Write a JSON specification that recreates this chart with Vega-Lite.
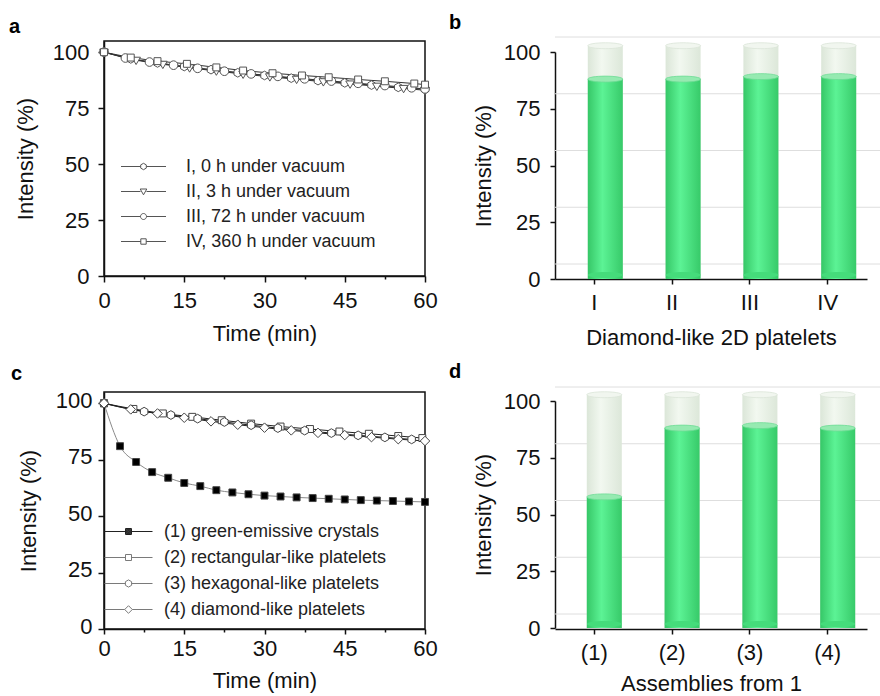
{
  "$schema": "https://vega.github.io/schema/vega-lite/v6.json",
  "padding": {"left": 8, "top": 12, "right": 0, "bottom": 0},
  "background": "white",
  "config": {
    "font": "Liberation Sans",
    "view": {"stroke": null},
    "axis": {
      "labelFont": "Liberation Sans", "titleFont": "Liberation Sans",
      "labelFontSize": 22, "titleFontSize": 22, "titleFontWeight": "normal",
      "labelColor": "#111", "titleColor": "#111",
      "domainColor": "#111", "tickColor": "#111", "domainWidth": 1.5, "tickWidth": 1.5,
      "grid": false, "labelOverlap": false
    },
    "legend": {"labelFont": "Liberation Sans", "labelFontSize": 18, "labelColor": "#222", "labelLimit": 0},
    "title": {"font": "Liberation Sans", "fontSize": 20, "fontWeight": "bold", "anchor": "start", "frame": "group", "color": "#000"}
  },
  "resolve": {"scale": {"shape": "independent", "color": "independent", "x": "independent", "y": "independent"}, "legend": {"shape": "independent", "color": "independent"}},
  "columns": 2,
  "bounds": "flush",
  "spacing": {"row": 113, "column": 130},
  "concat": [
    {
      "width": 321, "height": 235,
      "view": {"stroke": "#111", "strokeWidth": 1.5},
      "title": {"text": "a", "dx": -95, "offset": 4},
      "data": {"values": [
        {"s": "I, 0 h under vacuum", "t": 0, "v": 100}, {"s": "I, 0 h under vacuum", "t": 5, "v": 97}, {"s": "I, 0 h under vacuum", "t": 10, "v": 95.2}, {"s": "I, 0 h under vacuum", "t": 15, "v": 93.6}, {"s": "I, 0 h under vacuum", "t": 20, "v": 92.2}, {"s": "I, 0 h under vacuum", "t": 25, "v": 90.8}, {"s": "I, 0 h under vacuum", "t": 30, "v": 89.6}, {"s": "I, 0 h under vacuum", "t": 35, "v": 88.4}, {"s": "I, 0 h under vacuum", "t": 40, "v": 87.3}, {"s": "I, 0 h under vacuum", "t": 45, "v": 86.3}, {"s": "I, 0 h under vacuum", "t": 50, "v": 85.3}, {"s": "I, 0 h under vacuum", "t": 55, "v": 84.3}, {"s": "I, 0 h under vacuum", "t": 60, "v": 83.4},
        {"s": "II, 3 h under vacuum", "t": 0, "v": 100}, {"s": "II, 3 h under vacuum", "t": 6, "v": 96.4}, {"s": "II, 3 h under vacuum", "t": 11, "v": 94.6}, {"s": "II, 3 h under vacuum", "t": 16, "v": 93}, {"s": "II, 3 h under vacuum", "t": 21, "v": 91.6}, {"s": "II, 3 h under vacuum", "t": 26, "v": 90.2}, {"s": "II, 3 h under vacuum", "t": 31, "v": 89}, {"s": "II, 3 h under vacuum", "t": 36, "v": 87.9}, {"s": "II, 3 h under vacuum", "t": 41, "v": 86.8}, {"s": "II, 3 h under vacuum", "t": 46, "v": 85.8}, {"s": "II, 3 h under vacuum", "t": 51, "v": 84.8}, {"s": "II, 3 h under vacuum", "t": 56, "v": 83.8}, {"s": "II, 3 h under vacuum", "t": 60, "v": 83},
        {"s": "III, 72 h under vacuum", "t": 0, "v": 100}, {"s": "III, 72 h under vacuum", "t": 4, "v": 97.4}, {"s": "III, 72 h under vacuum", "t": 8.5, "v": 95.6}, {"s": "III, 72 h under vacuum", "t": 13, "v": 94.2}, {"s": "III, 72 h under vacuum", "t": 17.5, "v": 92.8}, {"s": "III, 72 h under vacuum", "t": 22.5, "v": 91.5}, {"s": "III, 72 h under vacuum", "t": 27.5, "v": 90.3}, {"s": "III, 72 h under vacuum", "t": 32.5, "v": 89.2}, {"s": "III, 72 h under vacuum", "t": 37.5, "v": 88.1}, {"s": "III, 72 h under vacuum", "t": 42.5, "v": 87.1}, {"s": "III, 72 h under vacuum", "t": 47.5, "v": 86.1}, {"s": "III, 72 h under vacuum", "t": 52.5, "v": 85.1}, {"s": "III, 72 h under vacuum", "t": 57.5, "v": 84.1}, {"s": "III, 72 h under vacuum", "t": 60, "v": 83.6},
        {"s": "IV, 360 h under vacuum", "t": 0, "v": 100}, {"s": "IV, 360 h under vacuum", "t": 5, "v": 97.6}, {"s": "IV, 360 h under vacuum", "t": 10, "v": 96}, {"s": "IV, 360 h under vacuum", "t": 15.5, "v": 94.8}, {"s": "IV, 360 h under vacuum", "t": 21, "v": 93.2}, {"s": "IV, 360 h under vacuum", "t": 26, "v": 91.8}, {"s": "IV, 360 h under vacuum", "t": 31.5, "v": 90.6}, {"s": "IV, 360 h under vacuum", "t": 37, "v": 89.6}, {"s": "IV, 360 h under vacuum", "t": 42, "v": 88.8}, {"s": "IV, 360 h under vacuum", "t": 47.5, "v": 87.8}, {"s": "IV, 360 h under vacuum", "t": 52.5, "v": 87}, {"s": "IV, 360 h under vacuum", "t": 58, "v": 86}, {"s": "IV, 360 h under vacuum", "t": 60, "v": 85.5}
      ]},
      "resolve": {"scale": {"shape": "independent"}, "legend": {"shape": "independent"}},
      "layer": [
        {
          "mark": {"type": "line", "color": "#333", "strokeWidth": 1},
          "encoding": {
            "x": {"field": "t", "type": "quantitative", "scale": {"domain": [0, 60], "nice": false},
              "axis": {"values": [0, 7.5, 15, 22.5, 30, 37.5, 45, 52.5, 60], "labelExpr": "datum.value % 15 === 0 ? datum.label : ''", "labelFlush": false,
                "tickSize": {"condition": {"test": "datum.value % 15 === 0", "value": 6}, "value": 3}, "labelPadding": 8, "titlePadding": 12, "title": "Time (min)"}},
            "y": {"field": "v", "type": "quantitative", "scale": {"domain": [0, 105], "nice": false},
              "axis": {"values": [0, 12.5, 25, 37.5, 50, 62.5, 75, 87.5, 100], "labelExpr": "datum.value % 25 === 0 ? datum.label : ''",
                "tickSize": {"condition": {"test": "datum.value % 25 === 0", "value": 6}, "value": 3}, "labelPadding": 9, "titlePadding": 15, "title": "Intensity (%)"}},
            "detail": {"field": "s"}
          }
        },
        {
          "mark": {"type": "point", "filled": true, "fill": "white", "stroke": "#555", "strokeWidth": 1, "size": 75, "opacity": 1},
          "encoding": {
            "x": {"field": "t", "type": "quantitative"},
            "y": {"field": "v", "type": "quantitative"},
            "shape": {"field": "s", "type": "nominal",
              "scale": {"domain": ["I, 0 h under vacuum", "II, 3 h under vacuum", "III, 72 h under vacuum", "IV, 360 h under vacuum"],
                "range": ["M0,-1L0.866,-0.5L0.866,0.5L0,1L-0.866,0.5L-0.866,-0.5Z", "M-1,-0.7L1,-0.7L0,1Z", "M1,0A1,1 0 1,1 -1,0A1,1 0 1,1 1,0Z", "M-0.8,-0.8L0.8,-0.8L0.8,0.8L-0.8,0.8Z"]},
              "legend": null
            }
          }
        },
        {
          "transform": [{"filter": "datum.t < 0"}],
          "mark": {"type": "point", "filled": false, "color": "#555", "strokeWidth": 1, "size": 400, "opacity": 1},
          "encoding": {
            "shape": {"field": "s", "type": "nominal",
              "scale": {"domain": ["I, 0 h under vacuum", "II, 3 h under vacuum", "III, 72 h under vacuum", "IV, 360 h under vacuum"],
                "range": ["M-2.25,0L-0.3,0M0.3,0L2.25,0M0,-0.32L0.28,-0.16L0.28,0.16L0,0.32L-0.28,0.16L-0.28,-0.16Z", "M-2.25,0L-0.3,0M0.3,0L2.25,0M-0.33,-0.25L0.33,-0.25L0,0.33Z", "M-2.25,0L-0.3,0M0.3,0L2.25,0M0.3,0A0.3,0.3 0 1,1 -0.3,0A0.3,0.3 0 1,1 0.3,0Z", "M-2.25,0L-0.27,0M0.27,0L2.25,0M-0.27,-0.27L0.27,-0.27L0.27,0.27L-0.27,0.27Z"]},
              "legend": {"title": null, "orient": "none", "legendX": 29, "legendY": 115, "padding": 0, "symbolSize": 400, "labelOffset": 32, "rowPadding": 5, "symbolStrokeWidth": 1, "symbolOpacity": 1}
            }
          }
        }
      ]
    },
    {
      "width": 312, "height": 238,
      "title": {"text": "b", "dx": -106, "offset": 4},
      "layer": [
        {
          "data": {"values": [{"g": 0}, {"g": 25}, {"g": 50}, {"g": 75}, {"g": 100}]},
          "mark": {"type": "rule", "color": "#dedede", "strokeWidth": 1, "xOffset": 22, "yOffset": -15},
          "encoding": {
            "y": {"field": "g", "type": "quantitative", "scale": {"domain": [0, 100], "range": [238, 11], "nice": false},
              "axis": {"values": [0, 25, 50, 75, 100], "tickSize": 5, "labelPadding": 10, "titlePadding": 8, "title": "Intensity (%)"}}
          }
        },
        {
          "data": {"values": [{"k": "I", "v": 86.3}, {"k": "II", "v": 86.3}, {"k": "III", "v": 87.4}, {"k": "IV", "v": 87.4}]},
          "layer": [
            {
              "mark": {"type": "bar", "xOffset": 11, "yOffset": -4, "fill": {"gradient": "linear", "x1": 0, "y1": 0, "x2": 1, "y2": 0, "stops": [{"offset": 0, "color": "#dbe6d8"}, {"offset": 0.4, "color": "#f2f8f0"}, {"offset": 1, "color": "#dce7d9"}]}},
              "encoding": {
                "x": {"field": "k", "type": "nominal", "sort": null, "scale": {"paddingInner": 0.55, "paddingOuter": 0.28},
                  "axis": {"labelAngle": 0, "tickSize": 5, "labelPadding": 8, "titlePadding": 14, "title": "Diamond-like 2D platelets"}},
                "y": {"datum": 101, "type": "quantitative"},
                "y2": {"datum": 0}
              }
            },
            {
              "mark": {"type": "bar", "xOffset": 11, "yOffset": -4, "fill": {"gradient": "linear", "x1": 0, "y1": 0, "x2": 1, "y2": 0, "stops": [{"offset": 0, "color": "#36c767"}, {"offset": 0.42, "color": "#5cf395"}, {"offset": 1, "color": "#37ca69"}]}},
              "encoding": {
                "x": {"field": "k", "type": "nominal", "sort": null},
                "y": {"field": "v", "type": "quantitative"},
                "y2": {"datum": 0}
              }
            },
            {
              "mark": {"type": "point", "xOffset": 11, "yOffset": -4, "filled": true, "fill": "#45dc7b", "strokeWidth": 0, "opacity": 1, "size": 1225, "shape": "M-1,0A1,0.17 0 1,0 1,0A1,0.17 0 1,0 -1,0Z"},
              "encoding": {
                "x": {"field": "k", "type": "nominal", "sort": null},
                "y": {"datum": 0, "type": "quantitative"}
              }
            },
            {
              "mark": {"type": "point", "xOffset": 11, "yOffset": -4, "filled": true, "fill": "#96eab1", "stroke": "#6fdc95", "strokeWidth": 0.8, "opacity": 1, "size": 1225, "shape": "M-1,0A1,0.17 0 1,0 1,0A1,0.17 0 1,0 -1,0Z"},
              "encoding": {
                "x": {"field": "k", "type": "nominal", "sort": null},
                "y": {"field": "v", "type": "quantitative"}
              }
            },
            {
              "mark": {"type": "point", "xOffset": 11, "yOffset": -4, "filled": true, "fill": "#f1f6ef", "stroke": "#dbe4d8", "strokeWidth": 0.8, "opacity": 1, "size": 1225, "shape": "M-1,0A1,0.17 0 1,0 1,0A1,0.17 0 1,0 -1,0Z"},
              "encoding": {
                "x": {"field": "k", "type": "nominal", "sort": null},
                "y": {"datum": 101, "type": "quantitative"}
              }
            }
          ]
        }
      ]
    },
    {
      "width": 321, "height": 237,
      "view": {"stroke": "#111", "strokeWidth": 1.5},
      "title": {"text": "c", "dx": -93, "offset": 5},
      "data": {"values": [
        {"s": "(1) green-emissive crystals", "t": 0, "v": 100}, {"s": "(1) green-emissive crystals", "t": 3, "v": 81}, {"s": "(1) green-emissive crystals", "t": 6, "v": 74}, {"s": "(1) green-emissive crystals", "t": 9, "v": 69.5}, {"s": "(1) green-emissive crystals", "t": 12, "v": 67}, {"s": "(1) green-emissive crystals", "t": 15, "v": 64.7}, {"s": "(1) green-emissive crystals", "t": 18, "v": 63.3}, {"s": "(1) green-emissive crystals", "t": 21, "v": 61.5}, {"s": "(1) green-emissive crystals", "t": 24, "v": 60.5}, {"s": "(1) green-emissive crystals", "t": 27, "v": 59.7}, {"s": "(1) green-emissive crystals", "t": 30, "v": 59.1}, {"s": "(1) green-emissive crystals", "t": 33, "v": 58.7}, {"s": "(1) green-emissive crystals", "t": 36, "v": 58.3}, {"s": "(1) green-emissive crystals", "t": 39, "v": 58}, {"s": "(1) green-emissive crystals", "t": 42, "v": 57.7}, {"s": "(1) green-emissive crystals", "t": 45, "v": 57.4}, {"s": "(1) green-emissive crystals", "t": 48, "v": 57.1}, {"s": "(1) green-emissive crystals", "t": 51, "v": 56.9}, {"s": "(1) green-emissive crystals", "t": 54, "v": 56.7}, {"s": "(1) green-emissive crystals", "t": 57, "v": 56.5}, {"s": "(1) green-emissive crystals", "t": 60, "v": 56.3},
        {"s": "(2) rectangular-like platelets", "t": 0, "v": 100}, {"s": "(2) rectangular-like platelets", "t": 5.5, "v": 97.5}, {"s": "(2) rectangular-like platelets", "t": 11, "v": 95.5}, {"s": "(2) rectangular-like platelets", "t": 16.5, "v": 94}, {"s": "(2) rectangular-like platelets", "t": 22, "v": 92.5}, {"s": "(2) rectangular-like platelets", "t": 27.5, "v": 91}, {"s": "(2) rectangular-like platelets", "t": 33, "v": 89.7}, {"s": "(2) rectangular-like platelets", "t": 38.5, "v": 88.6}, {"s": "(2) rectangular-like platelets", "t": 44, "v": 87.5}, {"s": "(2) rectangular-like platelets", "t": 49.5, "v": 86.5}, {"s": "(2) rectangular-like platelets", "t": 55, "v": 85.5}, {"s": "(2) rectangular-like platelets", "t": 59.5, "v": 84.6},
        {"s": "(3) hexagonal-like platelets", "t": 0, "v": 100}, {"s": "(3) hexagonal-like platelets", "t": 7.5, "v": 96.3}, {"s": "(3) hexagonal-like platelets", "t": 12.5, "v": 94.8}, {"s": "(3) hexagonal-like platelets", "t": 17.5, "v": 93.2}, {"s": "(3) hexagonal-like platelets", "t": 22.5, "v": 91.7}, {"s": "(3) hexagonal-like platelets", "t": 27.5, "v": 90.3}, {"s": "(3) hexagonal-like platelets", "t": 32.5, "v": 89}, {"s": "(3) hexagonal-like platelets", "t": 37.5, "v": 87.9}, {"s": "(3) hexagonal-like platelets", "t": 42.5, "v": 86.8}, {"s": "(3) hexagonal-like platelets", "t": 47.5, "v": 85.8}, {"s": "(3) hexagonal-like platelets", "t": 52.5, "v": 84.9}, {"s": "(3) hexagonal-like platelets", "t": 57.5, "v": 84},
        {"s": "(4) diamond-like platelets", "t": 0, "v": 100}, {"s": "(4) diamond-like platelets", "t": 5, "v": 97.3}, {"s": "(4) diamond-like platelets", "t": 10, "v": 95.5}, {"s": "(4) diamond-like platelets", "t": 15, "v": 93.6}, {"s": "(4) diamond-like platelets", "t": 20, "v": 92}, {"s": "(4) diamond-like platelets", "t": 25, "v": 90.5}, {"s": "(4) diamond-like platelets", "t": 30, "v": 89.2}, {"s": "(4) diamond-like platelets", "t": 35, "v": 88}, {"s": "(4) diamond-like platelets", "t": 40, "v": 86.9}, {"s": "(4) diamond-like platelets", "t": 45, "v": 85.9}, {"s": "(4) diamond-like platelets", "t": 50, "v": 85}, {"s": "(4) diamond-like platelets", "t": 55, "v": 84.1}, {"s": "(4) diamond-like platelets", "t": 60, "v": 83.3}
      ]},
      "resolve": {"scale": {"shape": "independent", "color": "independent"}, "legend": {"shape": "independent", "color": "independent"}},
      "layer": [
        {
          "mark": {"type": "line", "strokeWidth": 1, "interpolate": "monotone"},
          "encoding": {
            "x": {"field": "t", "type": "quantitative", "scale": {"domain": [0, 60], "nice": false},
              "axis": {"values": [0, 7.5, 15, 22.5, 30, 37.5, 45, 52.5, 60], "labelExpr": "datum.value % 15 === 0 ? datum.label : ''", "labelFlush": false,
                "tickSize": {"condition": {"test": "datum.value % 15 === 0", "value": 5}, "value": 3}, "labelPadding": 4, "titlePadding": 11, "title": "Time (min)"}},
            "y": {"field": "v", "type": "quantitative", "scale": {"domain": [0, 105], "nice": false},
              "axis": {"values": [0, 12.5, 25, 37.5, 50, 62.5, 75, 87.5, 100], "labelExpr": "datum.value % 25 === 0 ? datum.label : ''", "labelOffset": -3,
                "tickSize": {"condition": {"test": "datum.value % 25 === 0", "value": 6}, "value": 3}, "labelPadding": 6, "titlePadding": 15, "title": "Intensity (%)"}},
            "detail": {"field": "s"},
            "stroke": {"condition": {"test": "datum.s === '(1) green-emissive crystals'", "value": "#8a8a8a"}, "value": "#222"}
          }
        },
        {
          "mark": {"type": "point", "filled": true, "stroke": "#444", "strokeWidth": 1, "size": 75, "opacity": 1},
          "encoding": {
            "x": {"field": "t", "type": "quantitative"},
            "y": {"field": "v", "type": "quantitative"},
            "fill": {"condition": {"test": "datum.s === '(1) green-emissive crystals'", "value": "#000"}, "value": "white"},
            "shape": {"field": "s", "type": "nominal",
              "scale": {"domain": ["(1) green-emissive crystals", "(2) rectangular-like platelets", "(3) hexagonal-like platelets", "(4) diamond-like platelets"],
                "range": ["M-0.8,-0.8L0.8,-0.8L0.8,0.8L-0.8,0.8Z", "M-0.8,-0.8L0.8,-0.8L0.8,0.8L-0.8,0.8Z", "M0,-1L0.866,-0.5L0.866,0.5L0,1L-0.866,0.5L-0.866,-0.5Z", "M0,-1.1L1.1,0L0,1.1L-1.1,0Z"]},
              "legend": null
            }
          }
        },
        {
          "transform": [{"filter": "datum.t < 0"}],
          "mark": {"type": "point", "filled": false, "strokeWidth": 1, "size": 400, "opacity": 1},
          "encoding": {
            "color": {"field": "s", "type": "nominal",
              "scale": {"domain": ["(1) green-emissive crystals", "(2) rectangular-like platelets", "(3) hexagonal-like platelets", "(4) diamond-like platelets"], "range": ["#222222", "#7a7a7a", "#7a7a7a", "#7a7a7a"]},
              "legend": {"title": null, "orient": "none", "legendX": 14, "legendY": 129, "padding": 0, "symbolSize": 400, "labelOffset": 25, "rowPadding": 6, "symbolStrokeWidth": 1, "symbolOpacity": 1}},
            "shape": {"field": "s", "type": "nominal",
              "scale": {"domain": ["(1) green-emissive crystals", "(2) rectangular-like platelets", "(3) hexagonal-like platelets", "(4) diamond-like platelets"],
                "range": ["M-2.4,0L-0.3,0M0.3,0L2.4,0M-0.3,-0.3L0.3,-0.3L0.3,0.3L-0.3,0.3ZM-0.24,-0.24L0.24,-0.24L0.24,0.24L-0.24,0.24ZM-0.18,-0.18L0.18,-0.18L0.18,0.18L-0.18,0.18ZM-0.12,-0.12L0.12,-0.12L0.12,0.12L-0.12,0.12ZM-0.06,-0.06L0.06,-0.06L0.06,0.06L-0.06,0.06Z", "M-2.4,0L-0.3,0M0.3,0L2.4,0M-0.3,-0.3L0.3,-0.3L0.3,0.3L-0.3,0.3Z", "M-2.4,0L-0.34,0M0.34,0L2.4,0M0,-0.36L0.31,-0.18L0.31,0.18L0,0.36L-0.31,0.18L-0.31,-0.18Z", "M-2.4,0L-0.38,0M0.38,0L2.4,0M0,-0.38L0.38,0L0,0.38L-0.38,0Z"]},
              "legend": {"title": null, "orient": "none", "legendX": 14, "legendY": 129, "padding": 0, "symbolSize": 400, "labelOffset": 25, "rowPadding": 6, "symbolStrokeWidth": 1, "symbolOpacity": 1}
            }
          }
        }
      ]
    },
    {
      "width": 312, "height": 237,
      "title": {"text": "d", "dx": -106, "offset": 5},
      "layer": [
        {
          "data": {"values": [{"g": 0}, {"g": 25}, {"g": 50}, {"g": 75}, {"g": 100}]},
          "mark": {"type": "rule", "color": "#dedede", "strokeWidth": 1, "xOffset": 22, "yOffset": -14},
          "encoding": {
            "y": {"field": "g", "type": "quantitative", "scale": {"domain": [0, 100], "range": [236, 9], "nice": false},
              "axis": {"values": [0, 25, 50, 75, 100], "tickSize": 5, "labelPadding": 10, "titlePadding": 8, "title": "Intensity (%)"}}
          }
        },
        {
          "data": {"values": [{"k": "(1)", "v": 56}, {"k": "(2)", "v": 86.3}, {"k": "(3)", "v": 87.4}, {"k": "(4)", "v": 86.3}]},
          "layer": [
            {
              "mark": {"type": "bar", "xOffset": 10, "yOffset": -4, "fill": {"gradient": "linear", "x1": 0, "y1": 0, "x2": 1, "y2": 0, "stops": [{"offset": 0, "color": "#dbe6d8"}, {"offset": 0.4, "color": "#f2f8f0"}, {"offset": 1, "color": "#dce7d9"}]}},
              "encoding": {
                "x": {"field": "k", "type": "nominal", "sort": null, "scale": {"paddingInner": 0.55, "paddingOuter": 0.28},
                  "axis": {"labelAngle": 0, "tickSize": 5, "labelPadding": 8, "titlePadding": 10, "title": "Assemblies from 1"}},
                "y": {"datum": 101, "type": "quantitative"},
                "y2": {"datum": 0}
              }
            },
            {
              "mark": {"type": "bar", "xOffset": 10, "yOffset": -4, "fill": {"gradient": "linear", "x1": 0, "y1": 0, "x2": 1, "y2": 0, "stops": [{"offset": 0, "color": "#36c767"}, {"offset": 0.42, "color": "#5cf395"}, {"offset": 1, "color": "#37ca69"}]}},
              "encoding": {
                "x": {"field": "k", "type": "nominal", "sort": null},
                "y": {"field": "v", "type": "quantitative"},
                "y2": {"datum": 0}
              }
            },
            {
              "mark": {"type": "point", "xOffset": 10, "yOffset": -4, "filled": true, "fill": "#45dc7b", "strokeWidth": 0, "opacity": 1, "size": 1225, "shape": "M-1,0A1,0.17 0 1,0 1,0A1,0.17 0 1,0 -1,0Z"},
              "encoding": {
                "x": {"field": "k", "type": "nominal", "sort": null},
                "y": {"datum": 0, "type": "quantitative"}
              }
            },
            {
              "mark": {"type": "point", "xOffset": 10, "yOffset": -4, "filled": true, "fill": "#96eab1", "stroke": "#6fdc95", "strokeWidth": 0.8, "opacity": 1, "size": 1225, "shape": "M-1,0A1,0.17 0 1,0 1,0A1,0.17 0 1,0 -1,0Z"},
              "encoding": {
                "x": {"field": "k", "type": "nominal", "sort": null},
                "y": {"field": "v", "type": "quantitative"}
              }
            },
            {
              "mark": {"type": "point", "xOffset": 10, "yOffset": -4, "filled": true, "fill": "#f1f6ef", "stroke": "#dbe4d8", "strokeWidth": 0.8, "opacity": 1, "size": 1225, "shape": "M-1,0A1,0.17 0 1,0 1,0A1,0.17 0 1,0 -1,0Z"},
              "encoding": {
                "x": {"field": "k", "type": "nominal", "sort": null},
                "y": {"datum": 101, "type": "quantitative"}
              }
            }
          ]
        }
      ]
    }
  ]
}
